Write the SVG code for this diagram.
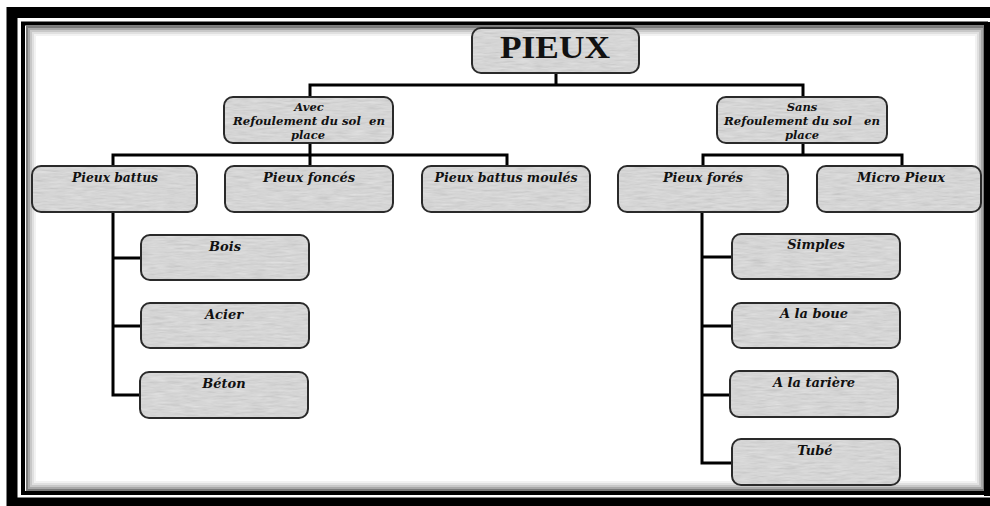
<svg xmlns="http://www.w3.org/2000/svg" width="990" height="506" viewBox="0 0 990 506">
<defs>
<filter id="grain" x="0" y="0" width="100%" height="100%">
<feTurbulence type="fractalNoise" baseFrequency="0.06 0.5" numOctaves="3" seed="7" result="n"/>
<feColorMatrix in="n" type="matrix" values="0.33 0.33 0.33 0 0  0.33 0.33 0.33 0 0  0.33 0.33 0.33 0 0  0 0 0 0 1" result="g"/>
<feComposite in="g" in2="SourceGraphic" operator="in"/>
</filter>
</defs>
<style>
.bg{fill:#e2e2e2}
.gr{fill:#000;opacity:0.32;filter:url(#grain)}
.bd{fill:none;stroke:#2a2a2a;stroke-width:2}
.t{font-family:"DejaVu Serif","Liberation Serif",serif;font-weight:bold;font-style:italic;font-size:13px;fill:#111;text-anchor:middle;white-space:pre}
.s{font-size:11.5px}
.title{font-family:"Liberation Serif","DejaVu Serif",serif;font-weight:bold;font-size:31px;fill:#111;text-anchor:middle}
.c{fill:none;stroke:#000;stroke-width:3;stroke-linejoin:miter;stroke-linecap:square}
</style>
<rect width="990" height="506" fill="#fff"/>
<g id="frame">
<rect x="12" y="12.5" width="1000" height="490.5" fill="none" stroke="#000" stroke-width="11"/>
<rect x="35" y="35" width="941" height="447" fill="none" stroke="#f2f2f2" stroke-width="2"/>
<rect x="33" y="33" width="945" height="451" fill="none" stroke="#e0e0e0" stroke-width="2"/>
<rect x="31" y="31" width="949" height="455" fill="none" stroke="#c8c8c8" stroke-width="2"/>
<rect x="29" y="29" width="953" height="459" fill="none" stroke="#a8a8a8" stroke-width="2"/>
<rect x="27" y="27" width="957" height="463" fill="none" stroke="#7a7a7a" stroke-width="2"/>
<rect x="23" y="23.5" width="963" height="469.5" fill="none" stroke="#000" stroke-width="4"/>
<rect x="984" y="22" width="6" height="474" fill="#000"/>
</g>
<g id="connectors">
<path class="c" d="M556 73V85M310 85H803M310 85V97M803 85V97"/>
<path class="c" d="M310 143V155M113 155H507M113 155V166M310 155V166M507 155V166"/>
<path class="c" d="M803 143V155M703 155H902M703 155V166M902 155V166"/>
<path class="c" d="M113 212V395H141M113 258H141M113 326H141"/>
<path class="c" d="M702 212V463H732M702 257H732M702 326H732M702 395H730"/>
</g>
<g id="n-pieux">
<rect class="bg" x="472" y="28" width="167" height="45" rx="9"/><rect class="gr" x="472" y="28" width="167" height="45" rx="9"/><rect class="bd" x="472" y="28" width="167" height="45" rx="9"/>
<text class="title" x="555" y="58" textLength="110" lengthAdjust="spacingAndGlyphs">PIEUX</text>
</g>
<g id="n-avec">
<rect class="bg" x="224" y="97" width="169" height="46" rx="9"/><rect class="gr" x="224" y="97" width="169" height="46" rx="9"/><rect class="bd" x="224" y="97" width="169" height="46" rx="9"/>
<text class="t s" x="309" y="111">Avec</text>
<text class="t s" x="309" y="125" textLength="152" lengthAdjust="spacingAndGlyphs">Refoulement du sol  en</text>
<text class="t s" x="308" y="139">place</text>
</g>
<g id="n-sans">
<rect class="bg" x="717" y="97" width="170" height="46" rx="9"/><rect class="gr" x="717" y="97" width="170" height="46" rx="9"/><rect class="bd" x="717" y="97" width="170" height="46" rx="9"/>
<text class="t s" x="802" y="111">Sans</text>
<text class="t s" x="802" y="125" textLength="156" lengthAdjust="spacingAndGlyphs">Refoulement du sol   en</text>
<text class="t s" x="802" y="139">place</text>
</g>
<g id="n-battus">
<rect class="bg" x="32" y="166" width="165" height="46" rx="9"/><rect class="gr" x="32" y="166" width="165" height="46" rx="9"/><rect class="bd" x="32" y="166" width="165" height="46" rx="9"/>
<text class="t" x="115" y="182" textLength="86" lengthAdjust="spacingAndGlyphs">Pieux battus</text>
</g>
<g id="n-fonces">
<rect class="bg" x="225" y="166" width="168" height="46" rx="9"/><rect class="gr" x="225" y="166" width="168" height="46" rx="9"/><rect class="bd" x="225" y="166" width="168" height="46" rx="9"/>
<text class="t" x="309" y="182" textLength="92" lengthAdjust="spacingAndGlyphs">Pieux foncés</text>
</g>
<g id="n-moules">
<rect class="bg" x="422" y="166" width="168" height="46" rx="9"/><rect class="gr" x="422" y="166" width="168" height="46" rx="9"/><rect class="bd" x="422" y="166" width="168" height="46" rx="9"/>
<text class="t" x="506" y="182" textLength="143" lengthAdjust="spacingAndGlyphs">Pieux battus moulés</text>
</g>
<g id="n-fores">
<rect class="bg" x="618" y="166" width="170" height="46" rx="9"/><rect class="gr" x="618" y="166" width="170" height="46" rx="9"/><rect class="bd" x="618" y="166" width="170" height="46" rx="9"/>
<text class="t" x="703" y="182" textLength="80" lengthAdjust="spacingAndGlyphs">Pieux forés</text>
</g>
<g id="n-micro">
<rect class="bg" x="817" y="166" width="164" height="46" rx="9"/><rect class="gr" x="817" y="166" width="164" height="46" rx="9"/><rect class="bd" x="817" y="166" width="164" height="46" rx="9"/>
<text class="t" x="901" y="182" textLength="88" lengthAdjust="spacingAndGlyphs">Micro Pieux</text>
</g>
<g id="n-bois">
<rect class="bg" x="141" y="235" width="168" height="45" rx="9"/><rect class="gr" x="141" y="235" width="168" height="45" rx="9"/><rect class="bd" x="141" y="235" width="168" height="45" rx="9"/>
<text class="t" x="225" y="251">Bois</text>
</g>
<g id="n-acier">
<rect class="bg" x="141" y="303" width="168" height="45" rx="9"/><rect class="gr" x="141" y="303" width="168" height="45" rx="9"/><rect class="bd" x="141" y="303" width="168" height="45" rx="9"/>
<text class="t" x="224" y="319">Acier</text>
</g>
<g id="n-beton">
<rect class="bg" x="140" y="372" width="168" height="46" rx="9"/><rect class="gr" x="140" y="372" width="168" height="46" rx="9"/><rect class="bd" x="140" y="372" width="168" height="46" rx="9"/>
<text class="t" x="224" y="388">Béton</text>
</g>
<g id="n-simples">
<rect class="bg" x="732" y="234" width="168" height="45" rx="9"/><rect class="gr" x="732" y="234" width="168" height="45" rx="9"/><rect class="bd" x="732" y="234" width="168" height="45" rx="9"/>
<text class="t" x="816" y="249">Simples</text>
</g>
<g id="n-boue">
<rect class="bg" x="732" y="303" width="168" height="45" rx="9"/><rect class="gr" x="732" y="303" width="168" height="45" rx="9"/><rect class="bd" x="732" y="303" width="168" height="45" rx="9"/>
<text class="t" x="814" y="318">A la boue</text>
</g>
<g id="n-tariere">
<rect class="bg" x="730" y="371" width="168" height="46" rx="9"/><rect class="gr" x="730" y="371" width="168" height="46" rx="9"/><rect class="bd" x="730" y="371" width="168" height="46" rx="9"/>
<text class="t" x="814" y="387">A la tarière</text>
</g>
<g id="n-tube">
<rect class="bg" x="732" y="439" width="168" height="46" rx="9"/><rect class="gr" x="732" y="439" width="168" height="46" rx="9"/><rect class="bd" x="732" y="439" width="168" height="46" rx="9"/>
<text class="t" x="815" y="455">Tubé</text>
</g>
</svg>
